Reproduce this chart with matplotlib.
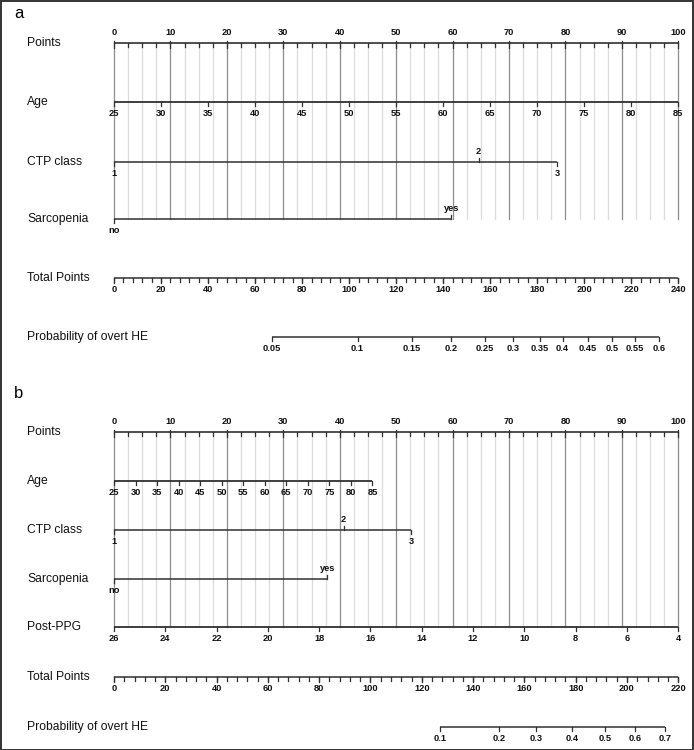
import numpy as np
import matplotlib
matplotlib.use('Agg')
import matplotlib.pyplot as plt
from matplotlib.patches import Rectangle

# ---- data ----
# panel a
age_ticks = [25, 30, 35, 40, 45, 50, 55, 60, 65, 70, 75, 80, 85]
age_pts_a = [0, 100]            # points for age 25 and 85
ctp_labels = ['1', '2', '3']
ctp_pts_a = [0, 64.6, 78.5]
sarc_labels = ['no', 'yes']
sarc_pts_a = [0, 59.8]
total_max_a = 240
total_ticks_a = list(range(0, 241, 20))
prob_labels_a = ['0.05', '0.1', '0.15', '0.2', '0.25', '0.3', '0.35', '0.4', '0.45', '0.5', '0.55', '0.6']
prob_tp_a = [67.1, 103.6, 126.6, 143.2, 157.6, 169.9, 181.0, 190.8, 201.5, 211.7, 221.5, 231.7]

# panel b
age_pts_b = [0, 45.8]
ctp_pts_b = [0, 40.7, 52.7]
sarc_pts_b = [0, 37.8]
ppg_ticks = [26, 24, 22, 20, 18, 16, 14, 12, 10, 8, 6, 4]
ppg_pts_b = [0, 100]            # points for 26 and 4
total_max_b = 220
total_ticks_b = list(range(0, 221, 20))
prob_labels_b = ['0.1', '0.2', '0.3', '0.4', '0.5', '0.6', '0.7']
prob_tp_b = [127.0, 150.0, 164.5, 178.5, 191.4, 203.0, 214.8]

points_ticks = list(range(0, 101, 10))

# ---- layout ----
W, H = 694, 750
X0, X1 = 114, 678.3
S = (X1 - X0) / 100.0
LINE = '#303030'
LAB_FONT = ['Liberation Sans Narrow', 'Liberation Sans', 'DejaVu Sans']
TICK_FONT = ['Liberation Sans Narrow', 'Liberation Sans', 'DejaVu Sans']

fig = plt.figure(figsize=(W / 100, H / 100), dpi=100)
ax = fig.add_axes([0, 0, 1, 1])
ax.set_xlim(-X0 / S, (W - X0) / S)
ax.set_ylim(H, 0)
ax.axis('off')
fig.patches.append(Rectangle((0.5 / W, 0.5 / H), 1 - 1.5 / W, 1 - 1.5 / H,
                             transform=fig.transFigure, fill=False,
                             edgecolor='#333333', lw=1.4))


def row_label(y, text):
    ax.text((27 - X0) / S, y, text, fontsize=8.7, family=LAB_FONT,
            va='center', ha='left', color='#111111')


def axis_line(x0, x1, y, lw=1.1):
    ax.plot([x0, x1], [y, y], color=LINE, lw=lw, solid_capstyle='butt', zorder=3)


def ticks(xs, y, length, up=False):
    for x in xs:
        y2 = y - length if up else y + length
        ax.plot([x, x], [y, y2], color=LINE, lw=0.9, zorder=3)


def tick_labels(xs, texts, y, above=False):
    for x, t in zip(xs, texts):
        if above:
            ax.text(x, y - 6, t, fontsize=6.7, fontweight='bold', family=TICK_FONT,
                    ha='center', va='bottom', color='#111111')
        else:
            ax.text(x, y + 7, t, fontsize=6.7, fontweight='bold', family=TICK_FONT,
                    ha='center', va='top', color='#111111')


def grid(y0, y1):
    for v in np.arange(0, 100.01, 2.5):
        if v % 10 == 0:
            ax.plot([v, v], [y0, y1], color='#8c8c8c', lw=0.9, zorder=1)
        else:
            ax.plot([v, v], [y0, y1], color='#dcdcdc', lw=0.9, zorder=0)


def points_axis(y):
    row_label(y, 'Points')
    axis_line(0, 100, y, lw=1.2)
    ticks(points_ticks, y, 5)
    ticks(points_ticks, y, 2, up=True)
    ticks([v for v in np.arange(0, 100.01, 2.5) if v % 10 != 0], y, 3.5)
    tick_labels(points_ticks, [str(v) for v in points_ticks], y, above=True)


def numeric_axis(y, label, values, pts_range, first_val, last_val):
    row_label(y, label)
    xs = np.interp(values, sorted([first_val, last_val]),
                   pts_range if first_val < last_val else pts_range[::-1])
    axis_line(min(xs), max(xs), y, lw=1.3)
    ticks(xs, y, 4)
    tick_labels(xs, [str(v) for v in values], y)


def cat_axis(y, label, texts, pts, ups):
    row_label(y, label)
    axis_line(min(pts), max(pts), y, lw=1.1)
    for x, t, up in zip(pts, texts, ups):
        ticks([x], y, 4, up=up)
        tick_labels([x], [t], y, above=up)


def total_axis(y, tmax, tlabels):
    row_label(y, 'Total Points')
    k = 100.0 / tmax
    axis_line(0, 100, y, lw=1.1)
    ticks([t * k for t in range(0, tmax + 1, 4)], y, 3.5)
    ticks([t * k for t in tlabels], y, 4.5)
    tick_labels([t * k for t in tlabels], [str(t) for t in tlabels], y)


def prob_axis(y, tmax, labels, tps):
    row_label(y, 'Probability of overt HE')
    k = 100.0 / tmax
    xs = [t * k for t in tps]
    axis_line(xs[0], xs[-1], y, lw=1.1)
    ticks(xs, y, 4)
    tick_labels(xs, labels, y)


# ---- panel a ----
ax.text((14 - X0) / S, 14, 'a', fontsize=12, family=LAB_FONT, va='center', ha='left')
grid(43, 219)
points_axis(43)
numeric_axis(102, 'Age', age_ticks, age_pts_a, 25, 85)
cat_axis(162, 'CTP class', ctp_labels, ctp_pts_a, [False, True, False])
cat_axis(219, 'Sarcopenia', sarc_labels, sarc_pts_a, [False, True])
total_axis(278, total_max_a, total_ticks_a)
prob_axis(337, total_max_a, prob_labels_a, prob_tp_a)

# ---- panel b ----
ax.text((14 - X0) / S, 394, 'b', fontsize=12, family=LAB_FONT, va='center', ha='left')
grid(432, 627)
points_axis(432)
numeric_axis(481, 'Age', age_ticks, age_pts_b, 25, 85)
cat_axis(530, 'CTP class', ctp_labels, ctp_pts_b, [False, True, False])
cat_axis(579, 'Sarcopenia', sarc_labels, sarc_pts_b, [False, True])
numeric_axis(627, 'Post-PPG', ppg_ticks, ppg_pts_b, 26, 4)
total_axis(677, total_max_b, total_ticks_b)
prob_axis(727, total_max_b, prob_labels_b, prob_tp_b)

fig.savefig('out.png', dpi=100)
